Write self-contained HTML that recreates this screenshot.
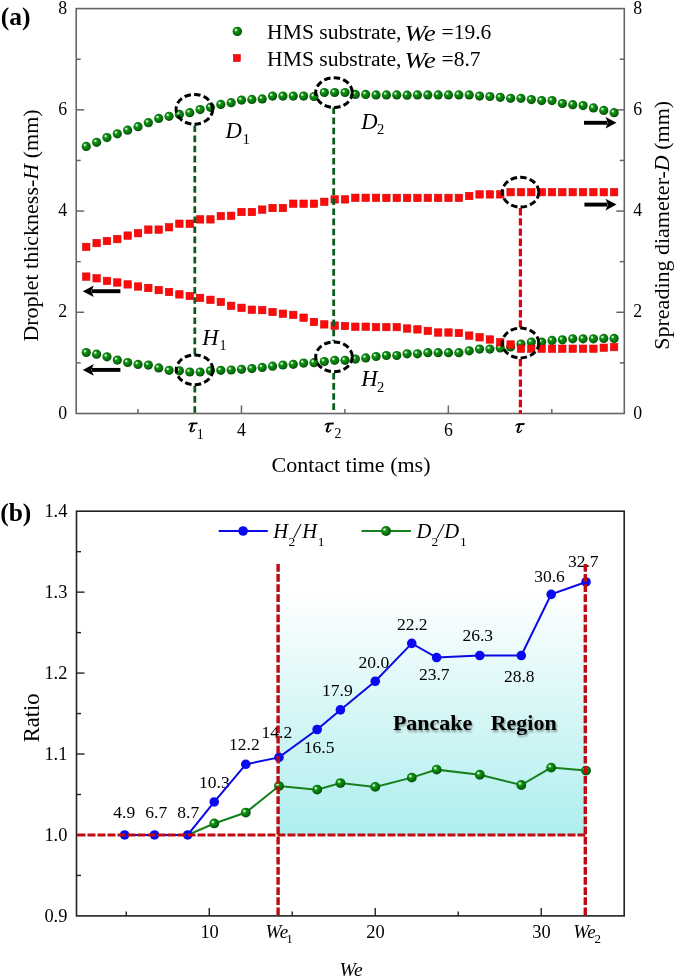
<!DOCTYPE html><html><head><meta charset="utf-8"><style>html,body{margin:0;padding:0;background:#fff;overflow:hidden;}svg{display:block;font-family:'Liberation Serif', serif;opacity:0.999;}</style></head><body>
<svg width="675" height="978" viewBox="0 0 675 978" font-family="Liberation Serif">
<defs>
<radialGradient id="gs" cx="0.45" cy="0.45" r="0.58" fx="0.33" fy="0.32">
<stop offset="0" stop-color="#f2fff2"/><stop offset="0.13" stop-color="#b0f0b0"/><stop offset="0.32" stop-color="#1a901d"/><stop offset="0.6" stop-color="#067e0a"/><stop offset="0.84" stop-color="#046008"/><stop offset="1" stop-color="#023804"/>
</radialGradient>
<linearGradient id="cy" gradientUnits="userSpaceOnUse" x1="0" y1="590" x2="0" y2="834">
<stop offset="0" stop-color="#ffffff"/><stop offset="1" stop-color="#afeeee"/>
</linearGradient>
<filter id="sh" x="-10%" y="-30%" width="130%" height="170%"><feGaussianBlur in="SourceAlpha" stdDeviation="1.1"/><feOffset dx="1.4" dy="1.8" result="o"/><feComponentTransfer><feFuncA type="linear" slope="0.4"/></feComponentTransfer><feMerge><feMergeNode/><feMergeNode in="SourceGraphic"/></feMerge></filter>
<g id="tau"><path d="M0.2,2.9 C0.9,1.2 2,0.25 3.7,0.25 L9.7,0.1 L9.4,1.9 L3.9,2 C2.4,2 1.3,2.5 0.5,3.3 Z" fill="#000"/><path d="M4.5,1.6 C3.9,4 3.1,6.6 2.5,8.4" stroke="#000" stroke-width="2" fill="none" stroke-linecap="round"/><path d="M2.4,8.5 C2.7,10.2 5.2,9.6 6.6,7.3" stroke="#000" stroke-width="1.15" fill="none" stroke-linecap="round"/></g>
</defs>
<rect x="76.2" y="8.6" width="548.1" height="404.9" fill="none" stroke="#666" stroke-width="1.6"/>
<text transform="translate(67.2,418.7)" font-size="17.8" text-anchor="end">0</text>
<text transform="translate(633.3,418.7)" font-size="17.8">0</text>
<line x1="76.2" y1="362.89" x2="80.7" y2="362.89" stroke="#666" stroke-width="1.5"/>
<line x1="624.3" y1="362.89" x2="619.8" y2="362.89" stroke="#666" stroke-width="1.5"/>
<line x1="76.2" y1="312.28" x2="84.2" y2="312.28" stroke="#666" stroke-width="1.5"/>
<line x1="624.3" y1="312.28" x2="616.3" y2="312.28" stroke="#666" stroke-width="1.5"/>
<text transform="translate(67.2,317.48)" font-size="17.8" text-anchor="end">2</text>
<text transform="translate(633.3,317.48)" font-size="17.8">2</text>
<line x1="76.2" y1="261.67" x2="80.7" y2="261.67" stroke="#666" stroke-width="1.5"/>
<line x1="624.3" y1="261.67" x2="619.8" y2="261.67" stroke="#666" stroke-width="1.5"/>
<line x1="76.2" y1="211.06" x2="84.2" y2="211.06" stroke="#666" stroke-width="1.5"/>
<line x1="624.3" y1="211.06" x2="616.3" y2="211.06" stroke="#666" stroke-width="1.5"/>
<text transform="translate(67.2,216.26)" font-size="17.8" text-anchor="end">4</text>
<text transform="translate(633.3,216.26)" font-size="17.8">4</text>
<line x1="76.2" y1="160.45" x2="80.7" y2="160.45" stroke="#666" stroke-width="1.5"/>
<line x1="624.3" y1="160.45" x2="619.8" y2="160.45" stroke="#666" stroke-width="1.5"/>
<line x1="76.2" y1="109.84" x2="84.2" y2="109.84" stroke="#666" stroke-width="1.5"/>
<line x1="624.3" y1="109.84" x2="616.3" y2="109.84" stroke="#666" stroke-width="1.5"/>
<text transform="translate(67.2,115.04)" font-size="17.8" text-anchor="end">6</text>
<text transform="translate(633.3,115.04)" font-size="17.8">6</text>
<line x1="76.2" y1="59.23" x2="80.7" y2="59.23" stroke="#666" stroke-width="1.5"/>
<line x1="624.3" y1="59.23" x2="619.8" y2="59.23" stroke="#666" stroke-width="1.5"/>
<text transform="translate(67.2,13.82)" font-size="17.8" text-anchor="end">8</text>
<text transform="translate(633.3,13.82)" font-size="17.8">8</text>
<line x1="138" y1="413.5" x2="138" y2="409" stroke="#666" stroke-width="1.5"/>
<line x1="241.45" y1="413.5" x2="241.45" y2="405.5" stroke="#666" stroke-width="1.5"/>
<line x1="344.9" y1="413.5" x2="344.9" y2="409" stroke="#666" stroke-width="1.5"/>
<line x1="448.35" y1="413.5" x2="448.35" y2="405.5" stroke="#666" stroke-width="1.5"/>
<line x1="551.8" y1="413.5" x2="551.8" y2="409" stroke="#666" stroke-width="1.5"/>
<text transform="translate(241.45,436)" font-size="17.8" text-anchor="middle">4</text>
<text transform="translate(448.35,436)" font-size="17.8" text-anchor="middle">6</text>
<circle cx="86.25" cy="146.4" r="4.6" fill="url(#gs)"/>
<circle cx="96.6" cy="142.3" r="4.6" fill="url(#gs)"/>
<circle cx="106.95" cy="137.6" r="4.6" fill="url(#gs)"/>
<circle cx="117.3" cy="133.8" r="4.6" fill="url(#gs)"/>
<circle cx="127.65" cy="130.2" r="4.6" fill="url(#gs)"/>
<circle cx="138" cy="126.7" r="4.6" fill="url(#gs)"/>
<circle cx="148.35" cy="122.7" r="4.6" fill="url(#gs)"/>
<circle cx="158.7" cy="118.4" r="4.6" fill="url(#gs)"/>
<circle cx="169.05" cy="116.3" r="4.6" fill="url(#gs)"/>
<circle cx="179.4" cy="114.4" r="4.6" fill="url(#gs)"/>
<circle cx="189.75" cy="112.7" r="4.6" fill="url(#gs)"/>
<circle cx="200.1" cy="109.6" r="4.6" fill="url(#gs)"/>
<circle cx="210.45" cy="107.3" r="4.6" fill="url(#gs)"/>
<circle cx="220.8" cy="104.4" r="4.6" fill="url(#gs)"/>
<circle cx="231.15" cy="102.7" r="4.6" fill="url(#gs)"/>
<circle cx="241.5" cy="100.1" r="4.6" fill="url(#gs)"/>
<circle cx="251.85" cy="99.4" r="4.6" fill="url(#gs)"/>
<circle cx="262.2" cy="98.9" r="4.6" fill="url(#gs)"/>
<circle cx="272.55" cy="96.1" r="4.6" fill="url(#gs)"/>
<circle cx="282.9" cy="96.1" r="4.6" fill="url(#gs)"/>
<circle cx="293.25" cy="96.1" r="4.6" fill="url(#gs)"/>
<circle cx="303.6" cy="96.1" r="4.6" fill="url(#gs)"/>
<circle cx="313.95" cy="96.5" r="4.6" fill="url(#gs)"/>
<circle cx="324.3" cy="92.5" r="4.6" fill="url(#gs)"/>
<circle cx="334.65" cy="92.5" r="4.6" fill="url(#gs)"/>
<circle cx="345" cy="92.5" r="4.6" fill="url(#gs)"/>
<circle cx="355.35" cy="94.4" r="4.6" fill="url(#gs)"/>
<circle cx="365.7" cy="94.4" r="4.6" fill="url(#gs)"/>
<circle cx="376.05" cy="94.9" r="4.6" fill="url(#gs)"/>
<circle cx="386.4" cy="94.9" r="4.6" fill="url(#gs)"/>
<circle cx="396.75" cy="94.9" r="4.6" fill="url(#gs)"/>
<circle cx="407.1" cy="95.2" r="4.6" fill="url(#gs)"/>
<circle cx="417.45" cy="94.9" r="4.6" fill="url(#gs)"/>
<circle cx="427.8" cy="94.9" r="4.6" fill="url(#gs)"/>
<circle cx="438.15" cy="94.9" r="4.6" fill="url(#gs)"/>
<circle cx="448.5" cy="94.9" r="4.6" fill="url(#gs)"/>
<circle cx="458.85" cy="94.9" r="4.6" fill="url(#gs)"/>
<circle cx="469.2" cy="94.9" r="4.6" fill="url(#gs)"/>
<circle cx="479.55" cy="96.1" r="4.6" fill="url(#gs)"/>
<circle cx="489.9" cy="96.5" r="4.6" fill="url(#gs)"/>
<circle cx="500.25" cy="97.3" r="4.6" fill="url(#gs)"/>
<circle cx="510.6" cy="98.3" r="4.6" fill="url(#gs)"/>
<circle cx="520.95" cy="98.3" r="4.6" fill="url(#gs)"/>
<circle cx="531.3" cy="99.6" r="4.6" fill="url(#gs)"/>
<circle cx="541.65" cy="100.6" r="4.6" fill="url(#gs)"/>
<circle cx="552" cy="100.6" r="4.6" fill="url(#gs)"/>
<circle cx="562.35" cy="103.5" r="4.6" fill="url(#gs)"/>
<circle cx="572.7" cy="104.7" r="4.6" fill="url(#gs)"/>
<circle cx="583.05" cy="105.6" r="4.6" fill="url(#gs)"/>
<circle cx="593.4" cy="107.9" r="4.6" fill="url(#gs)"/>
<circle cx="603.75" cy="110.4" r="4.6" fill="url(#gs)"/>
<circle cx="614.1" cy="112.7" r="4.6" fill="url(#gs)"/>
<circle cx="86.25" cy="352.5" r="4.6" fill="url(#gs)"/>
<circle cx="96.6" cy="354.2" r="4.6" fill="url(#gs)"/>
<circle cx="106.95" cy="356.8" r="4.6" fill="url(#gs)"/>
<circle cx="117.3" cy="360.1" r="4.6" fill="url(#gs)"/>
<circle cx="127.65" cy="362.5" r="4.6" fill="url(#gs)"/>
<circle cx="138" cy="364.4" r="4.6" fill="url(#gs)"/>
<circle cx="148.35" cy="365.1" r="4.6" fill="url(#gs)"/>
<circle cx="158.7" cy="367.9" r="4.6" fill="url(#gs)"/>
<circle cx="169.05" cy="370.3" r="4.6" fill="url(#gs)"/>
<circle cx="179.4" cy="370.8" r="4.6" fill="url(#gs)"/>
<circle cx="189.75" cy="372" r="4.6" fill="url(#gs)"/>
<circle cx="200.1" cy="372" r="4.6" fill="url(#gs)"/>
<circle cx="210.45" cy="370.8" r="4.6" fill="url(#gs)"/>
<circle cx="220.8" cy="370.3" r="4.6" fill="url(#gs)"/>
<circle cx="231.15" cy="370" r="4.6" fill="url(#gs)"/>
<circle cx="241.5" cy="369.3" r="4.6" fill="url(#gs)"/>
<circle cx="251.85" cy="368.6" r="4.6" fill="url(#gs)"/>
<circle cx="262.2" cy="367.4" r="4.6" fill="url(#gs)"/>
<circle cx="272.55" cy="366.2" r="4.6" fill="url(#gs)"/>
<circle cx="282.9" cy="365" r="4.6" fill="url(#gs)"/>
<circle cx="293.25" cy="364.3" r="4.6" fill="url(#gs)"/>
<circle cx="303.6" cy="363.1" r="4.6" fill="url(#gs)"/>
<circle cx="313.95" cy="362.7" r="4.6" fill="url(#gs)"/>
<circle cx="324.3" cy="361.5" r="4.6" fill="url(#gs)"/>
<circle cx="334.65" cy="360.3" r="4.6" fill="url(#gs)"/>
<circle cx="345" cy="360.3" r="4.6" fill="url(#gs)"/>
<circle cx="355.35" cy="359.1" r="4.6" fill="url(#gs)"/>
<circle cx="365.7" cy="357.9" r="4.6" fill="url(#gs)"/>
<circle cx="376.05" cy="356.5" r="4.6" fill="url(#gs)"/>
<circle cx="386.4" cy="355.5" r="4.6" fill="url(#gs)"/>
<circle cx="396.75" cy="355.5" r="4.6" fill="url(#gs)"/>
<circle cx="407.1" cy="353.8" r="4.6" fill="url(#gs)"/>
<circle cx="417.45" cy="353.8" r="4.6" fill="url(#gs)"/>
<circle cx="427.8" cy="352.7" r="4.6" fill="url(#gs)"/>
<circle cx="438.15" cy="352.7" r="4.6" fill="url(#gs)"/>
<circle cx="448.5" cy="352.7" r="4.6" fill="url(#gs)"/>
<circle cx="458.85" cy="352.7" r="4.6" fill="url(#gs)"/>
<circle cx="469.2" cy="350.8" r="4.6" fill="url(#gs)"/>
<circle cx="479.55" cy="349.1" r="4.6" fill="url(#gs)"/>
<circle cx="489.9" cy="349.1" r="4.6" fill="url(#gs)"/>
<circle cx="500.25" cy="348" r="4.6" fill="url(#gs)"/>
<circle cx="510.6" cy="347" r="4.6" fill="url(#gs)"/>
<circle cx="520.95" cy="344" r="4.6" fill="url(#gs)"/>
<circle cx="531.3" cy="342.1" r="4.6" fill="url(#gs)"/>
<circle cx="541.65" cy="342.1" r="4.6" fill="url(#gs)"/>
<circle cx="552" cy="340.4" r="4.6" fill="url(#gs)"/>
<circle cx="562.35" cy="339.8" r="4.6" fill="url(#gs)"/>
<circle cx="572.7" cy="338.8" r="4.6" fill="url(#gs)"/>
<circle cx="583.05" cy="338.8" r="4.6" fill="url(#gs)"/>
<circle cx="593.4" cy="338.8" r="4.6" fill="url(#gs)"/>
<circle cx="603.75" cy="338.4" r="4.6" fill="url(#gs)"/>
<circle cx="614.1" cy="338.4" r="4.6" fill="url(#gs)"/>
<rect x="82.55" y="243.2" width="7.4" height="7.4" fill="#ff0a0a" stroke="#d80000" stroke-width="0.6"/>
<rect x="92.9" y="239.4" width="7.4" height="7.4" fill="#ff0a0a" stroke="#d80000" stroke-width="0.6"/>
<rect x="103.25" y="237.3" width="7.4" height="7.4" fill="#ff0a0a" stroke="#d80000" stroke-width="0.6"/>
<rect x="113.6" y="235.4" width="7.4" height="7.4" fill="#ff0a0a" stroke="#d80000" stroke-width="0.6"/>
<rect x="123.95" y="231.9" width="7.4" height="7.4" fill="#ff0a0a" stroke="#d80000" stroke-width="0.6"/>
<rect x="134.3" y="229.5" width="7.4" height="7.4" fill="#ff0a0a" stroke="#d80000" stroke-width="0.6"/>
<rect x="144.65" y="225.9" width="7.4" height="7.4" fill="#ff0a0a" stroke="#d80000" stroke-width="0.6"/>
<rect x="155" y="225.9" width="7.4" height="7.4" fill="#ff0a0a" stroke="#d80000" stroke-width="0.6"/>
<rect x="165.35" y="223.6" width="7.4" height="7.4" fill="#ff0a0a" stroke="#d80000" stroke-width="0.6"/>
<rect x="175.7" y="220" width="7.4" height="7.4" fill="#ff0a0a" stroke="#d80000" stroke-width="0.6"/>
<rect x="186.05" y="220" width="7.4" height="7.4" fill="#ff0a0a" stroke="#d80000" stroke-width="0.6"/>
<rect x="196.4" y="215.7" width="7.4" height="7.4" fill="#ff0a0a" stroke="#d80000" stroke-width="0.6"/>
<rect x="206.75" y="215.7" width="7.4" height="7.4" fill="#ff0a0a" stroke="#d80000" stroke-width="0.6"/>
<rect x="217.1" y="212.4" width="7.4" height="7.4" fill="#ff0a0a" stroke="#d80000" stroke-width="0.6"/>
<rect x="227.45" y="212.1" width="7.4" height="7.4" fill="#ff0a0a" stroke="#d80000" stroke-width="0.6"/>
<rect x="237.8" y="208.3" width="7.4" height="7.4" fill="#ff0a0a" stroke="#d80000" stroke-width="0.6"/>
<rect x="248.15" y="208.3" width="7.4" height="7.4" fill="#ff0a0a" stroke="#d80000" stroke-width="0.6"/>
<rect x="258.5" y="205.9" width="7.4" height="7.4" fill="#ff0a0a" stroke="#d80000" stroke-width="0.6"/>
<rect x="268.85" y="204.3" width="7.4" height="7.4" fill="#ff0a0a" stroke="#d80000" stroke-width="0.6"/>
<rect x="279.2" y="204.3" width="7.4" height="7.4" fill="#ff0a0a" stroke="#d80000" stroke-width="0.6"/>
<rect x="289.55" y="200" width="7.4" height="7.4" fill="#ff0a0a" stroke="#d80000" stroke-width="0.6"/>
<rect x="299.9" y="200" width="7.4" height="7.4" fill="#ff0a0a" stroke="#d80000" stroke-width="0.6"/>
<rect x="310.25" y="200" width="7.4" height="7.4" fill="#ff0a0a" stroke="#d80000" stroke-width="0.6"/>
<rect x="320.6" y="198.1" width="7.4" height="7.4" fill="#ff0a0a" stroke="#d80000" stroke-width="0.6"/>
<rect x="330.95" y="195.7" width="7.4" height="7.4" fill="#ff0a0a" stroke="#d80000" stroke-width="0.6"/>
<rect x="341.3" y="195.7" width="7.4" height="7.4" fill="#ff0a0a" stroke="#d80000" stroke-width="0.6"/>
<rect x="351.65" y="194.1" width="7.4" height="7.4" fill="#ff0a0a" stroke="#d80000" stroke-width="0.6"/>
<rect x="362" y="194.1" width="7.4" height="7.4" fill="#ff0a0a" stroke="#d80000" stroke-width="0.6"/>
<rect x="372.35" y="194.1" width="7.4" height="7.4" fill="#ff0a0a" stroke="#d80000" stroke-width="0.6"/>
<rect x="382.7" y="194.2" width="7.4" height="7.4" fill="#ff0a0a" stroke="#d80000" stroke-width="0.6"/>
<rect x="393.05" y="194.2" width="7.4" height="7.4" fill="#ff0a0a" stroke="#d80000" stroke-width="0.6"/>
<rect x="403.4" y="194.2" width="7.4" height="7.4" fill="#ff0a0a" stroke="#d80000" stroke-width="0.6"/>
<rect x="413.75" y="194.2" width="7.4" height="7.4" fill="#ff0a0a" stroke="#d80000" stroke-width="0.6"/>
<rect x="424.1" y="194.2" width="7.4" height="7.4" fill="#ff0a0a" stroke="#d80000" stroke-width="0.6"/>
<rect x="434.45" y="194.2" width="7.4" height="7.4" fill="#ff0a0a" stroke="#d80000" stroke-width="0.6"/>
<rect x="444.8" y="194.2" width="7.4" height="7.4" fill="#ff0a0a" stroke="#d80000" stroke-width="0.6"/>
<rect x="455.15" y="194.2" width="7.4" height="7.4" fill="#ff0a0a" stroke="#d80000" stroke-width="0.6"/>
<rect x="465.5" y="192.3" width="7.4" height="7.4" fill="#ff0a0a" stroke="#d80000" stroke-width="0.6"/>
<rect x="475.85" y="190.7" width="7.4" height="7.4" fill="#ff0a0a" stroke="#d80000" stroke-width="0.6"/>
<rect x="486.2" y="190.7" width="7.4" height="7.4" fill="#ff0a0a" stroke="#d80000" stroke-width="0.6"/>
<rect x="496.55" y="190.7" width="7.4" height="7.4" fill="#ff0a0a" stroke="#d80000" stroke-width="0.6"/>
<rect x="506.9" y="188.5" width="7.4" height="7.4" fill="#ff0a0a" stroke="#d80000" stroke-width="0.6"/>
<rect x="517.25" y="188.5" width="7.4" height="7.4" fill="#ff0a0a" stroke="#d80000" stroke-width="0.6"/>
<rect x="527.6" y="188.5" width="7.4" height="7.4" fill="#ff0a0a" stroke="#d80000" stroke-width="0.6"/>
<rect x="537.95" y="188.5" width="7.4" height="7.4" fill="#ff0a0a" stroke="#d80000" stroke-width="0.6"/>
<rect x="548.3" y="188.5" width="7.4" height="7.4" fill="#ff0a0a" stroke="#d80000" stroke-width="0.6"/>
<rect x="558.65" y="188.5" width="7.4" height="7.4" fill="#ff0a0a" stroke="#d80000" stroke-width="0.6"/>
<rect x="569" y="188.5" width="7.4" height="7.4" fill="#ff0a0a" stroke="#d80000" stroke-width="0.6"/>
<rect x="579.35" y="188.5" width="7.4" height="7.4" fill="#ff0a0a" stroke="#d80000" stroke-width="0.6"/>
<rect x="589.7" y="188.5" width="7.4" height="7.4" fill="#ff0a0a" stroke="#d80000" stroke-width="0.6"/>
<rect x="600.05" y="188.5" width="7.4" height="7.4" fill="#ff0a0a" stroke="#d80000" stroke-width="0.6"/>
<rect x="610.4" y="188.5" width="7.4" height="7.4" fill="#ff0a0a" stroke="#d80000" stroke-width="0.6"/>
<rect x="82.55" y="272.9" width="7.4" height="7.4" fill="#ff0a0a" stroke="#d80000" stroke-width="0.6"/>
<rect x="92.9" y="274.6" width="7.4" height="7.4" fill="#ff0a0a" stroke="#d80000" stroke-width="0.6"/>
<rect x="103.25" y="277.2" width="7.4" height="7.4" fill="#ff0a0a" stroke="#d80000" stroke-width="0.6"/>
<rect x="113.6" y="278.8" width="7.4" height="7.4" fill="#ff0a0a" stroke="#d80000" stroke-width="0.6"/>
<rect x="123.95" y="280.7" width="7.4" height="7.4" fill="#ff0a0a" stroke="#d80000" stroke-width="0.6"/>
<rect x="134.3" y="282.8" width="7.4" height="7.4" fill="#ff0a0a" stroke="#d80000" stroke-width="0.6"/>
<rect x="144.65" y="284.3" width="7.4" height="7.4" fill="#ff0a0a" stroke="#d80000" stroke-width="0.6"/>
<rect x="155" y="286.4" width="7.4" height="7.4" fill="#ff0a0a" stroke="#d80000" stroke-width="0.6"/>
<rect x="165.35" y="288.3" width="7.4" height="7.4" fill="#ff0a0a" stroke="#d80000" stroke-width="0.6"/>
<rect x="175.7" y="290.7" width="7.4" height="7.4" fill="#ff0a0a" stroke="#d80000" stroke-width="0.6"/>
<rect x="186.05" y="292.3" width="7.4" height="7.4" fill="#ff0a0a" stroke="#d80000" stroke-width="0.6"/>
<rect x="196.4" y="294.2" width="7.4" height="7.4" fill="#ff0a0a" stroke="#d80000" stroke-width="0.6"/>
<rect x="206.75" y="296.1" width="7.4" height="7.4" fill="#ff0a0a" stroke="#d80000" stroke-width="0.6"/>
<rect x="217.1" y="298.3" width="7.4" height="7.4" fill="#ff0a0a" stroke="#d80000" stroke-width="0.6"/>
<rect x="227.45" y="302.1" width="7.4" height="7.4" fill="#ff0a0a" stroke="#d80000" stroke-width="0.6"/>
<rect x="237.8" y="304.1" width="7.4" height="7.4" fill="#ff0a0a" stroke="#d80000" stroke-width="0.6"/>
<rect x="248.15" y="306" width="7.4" height="7.4" fill="#ff0a0a" stroke="#d80000" stroke-width="0.6"/>
<rect x="258.5" y="306.4" width="7.4" height="7.4" fill="#ff0a0a" stroke="#d80000" stroke-width="0.6"/>
<rect x="268.85" y="308.3" width="7.4" height="7.4" fill="#ff0a0a" stroke="#d80000" stroke-width="0.6"/>
<rect x="279.2" y="310" width="7.4" height="7.4" fill="#ff0a0a" stroke="#d80000" stroke-width="0.6"/>
<rect x="289.55" y="311.2" width="7.4" height="7.4" fill="#ff0a0a" stroke="#d80000" stroke-width="0.6"/>
<rect x="299.9" y="314" width="7.4" height="7.4" fill="#ff0a0a" stroke="#d80000" stroke-width="0.6"/>
<rect x="310.25" y="318.3" width="7.4" height="7.4" fill="#ff0a0a" stroke="#d80000" stroke-width="0.6"/>
<rect x="320.6" y="320.7" width="7.4" height="7.4" fill="#ff0a0a" stroke="#d80000" stroke-width="0.6"/>
<rect x="330.95" y="321.9" width="7.4" height="7.4" fill="#ff0a0a" stroke="#d80000" stroke-width="0.6"/>
<rect x="341.3" y="322.3" width="7.4" height="7.4" fill="#ff0a0a" stroke="#d80000" stroke-width="0.6"/>
<rect x="351.65" y="323" width="7.4" height="7.4" fill="#ff0a0a" stroke="#d80000" stroke-width="0.6"/>
<rect x="362" y="323" width="7.4" height="7.4" fill="#ff0a0a" stroke="#d80000" stroke-width="0.6"/>
<rect x="372.35" y="323.4" width="7.4" height="7.4" fill="#ff0a0a" stroke="#d80000" stroke-width="0.6"/>
<rect x="382.7" y="323.4" width="7.4" height="7.4" fill="#ff0a0a" stroke="#d80000" stroke-width="0.6"/>
<rect x="393.05" y="323.4" width="7.4" height="7.4" fill="#ff0a0a" stroke="#d80000" stroke-width="0.6"/>
<rect x="403.4" y="324.8" width="7.4" height="7.4" fill="#ff0a0a" stroke="#d80000" stroke-width="0.6"/>
<rect x="413.75" y="325.7" width="7.4" height="7.4" fill="#ff0a0a" stroke="#d80000" stroke-width="0.6"/>
<rect x="424.1" y="327.2" width="7.4" height="7.4" fill="#ff0a0a" stroke="#d80000" stroke-width="0.6"/>
<rect x="434.45" y="328.8" width="7.4" height="7.4" fill="#ff0a0a" stroke="#d80000" stroke-width="0.6"/>
<rect x="444.8" y="328.8" width="7.4" height="7.4" fill="#ff0a0a" stroke="#d80000" stroke-width="0.6"/>
<rect x="455.15" y="329.3" width="7.4" height="7.4" fill="#ff0a0a" stroke="#d80000" stroke-width="0.6"/>
<rect x="465.5" y="331.9" width="7.4" height="7.4" fill="#ff0a0a" stroke="#d80000" stroke-width="0.6"/>
<rect x="475.85" y="333.6" width="7.4" height="7.4" fill="#ff0a0a" stroke="#d80000" stroke-width="0.6"/>
<rect x="486.2" y="335.8" width="7.4" height="7.4" fill="#ff0a0a" stroke="#d80000" stroke-width="0.6"/>
<rect x="496.55" y="338.6" width="7.4" height="7.4" fill="#ff0a0a" stroke="#d80000" stroke-width="0.6"/>
<rect x="506.9" y="340.8" width="7.4" height="7.4" fill="#ff0a0a" stroke="#d80000" stroke-width="0.6"/>
<rect x="517.25" y="345" width="7.4" height="7.4" fill="#ff0a0a" stroke="#d80000" stroke-width="0.6"/>
<rect x="527.6" y="345" width="7.4" height="7.4" fill="#ff0a0a" stroke="#d80000" stroke-width="0.6"/>
<rect x="537.95" y="345" width="7.4" height="7.4" fill="#ff0a0a" stroke="#d80000" stroke-width="0.6"/>
<rect x="548.3" y="345" width="7.4" height="7.4" fill="#ff0a0a" stroke="#d80000" stroke-width="0.6"/>
<rect x="558.65" y="345" width="7.4" height="7.4" fill="#ff0a0a" stroke="#d80000" stroke-width="0.6"/>
<rect x="569" y="345" width="7.4" height="7.4" fill="#ff0a0a" stroke="#d80000" stroke-width="0.6"/>
<rect x="579.35" y="345" width="7.4" height="7.4" fill="#ff0a0a" stroke="#d80000" stroke-width="0.6"/>
<rect x="589.7" y="345" width="7.4" height="7.4" fill="#ff0a0a" stroke="#d80000" stroke-width="0.6"/>
<rect x="600.05" y="344" width="7.4" height="7.4" fill="#ff0a0a" stroke="#d80000" stroke-width="0.6"/>
<rect x="610.4" y="343.4" width="7.4" height="7.4" fill="#ff0a0a" stroke="#d80000" stroke-width="0.6"/>
<line x1="194.8" y1="125.5" x2="194.8" y2="354" stroke="#0b5a1e" stroke-width="2.8" stroke-dasharray="6.6 3.5"/>
<line x1="194.8" y1="386" x2="194.8" y2="413.5" stroke="#0b5a1e" stroke-width="2.8" stroke-dasharray="6.6 3.5"/>
<line x1="333.7" y1="107.5" x2="333.7" y2="341" stroke="#0b5a1e" stroke-width="2.8" stroke-dasharray="6.6 3.5"/>
<line x1="333.7" y1="373" x2="333.7" y2="413.5" stroke="#0b5a1e" stroke-width="2.8" stroke-dasharray="6.6 3.5"/>
<line x1="520.4" y1="208" x2="520.4" y2="327.5" stroke="#e4000f" stroke-width="3.2" stroke-dasharray="7.4 2.8"/>
<line x1="520.4" y1="359" x2="520.4" y2="413.5" stroke="#e4000f" stroke-width="3.2" stroke-dasharray="7.4 2.8"/>
<ellipse cx="194.4" cy="109.3" rx="18.3" ry="14.9" fill="none" stroke="#000" stroke-width="3" stroke-dasharray="6.5 3.2"/>
<ellipse cx="334" cy="92.6" rx="18.3" ry="14.9" fill="none" stroke="#000" stroke-width="3" stroke-dasharray="6.5 3.2"/>
<ellipse cx="520.5" cy="192.2" rx="18.3" ry="14.9" fill="none" stroke="#000" stroke-width="3" stroke-dasharray="6.5 3.2"/>
<ellipse cx="194.6" cy="369.8" rx="18.3" ry="14.9" fill="none" stroke="#000" stroke-width="3" stroke-dasharray="6.5 3.2"/>
<ellipse cx="334" cy="356.8" rx="18.3" ry="14.9" fill="none" stroke="#000" stroke-width="3" stroke-dasharray="6.5 3.2"/>
<ellipse cx="520.5" cy="343" rx="18.3" ry="14.9" fill="none" stroke="#000" stroke-width="3" stroke-dasharray="6.5 3.2"/>
<line x1="584" y1="122.8" x2="607.5" y2="122.8" stroke="#000" stroke-width="3.9"/><path d="M616.5,122.8 L605.5,117 L608,122.8 L605.5,128.6 Z" fill="#000"/>
<line x1="584.4" y1="204.6" x2="607.5" y2="204.6" stroke="#000" stroke-width="3.9"/><path d="M616.5,204.6 L605.5,198.8 L608,204.6 L605.5,210.4 Z" fill="#000"/>
<line x1="120.4" y1="291.2" x2="91.8" y2="291.2" stroke="#000" stroke-width="3.9"/><path d="M82.8,291.2 L93.8,285.4 L91.3,291.2 L93.8,297 Z" fill="#000"/>
<line x1="120.4" y1="369.9" x2="91.8" y2="369.9" stroke="#000" stroke-width="3.9"/><path d="M82.8,369.9 L93.8,364.1 L91.3,369.9 L93.8,375.7 Z" fill="#000"/>
<circle cx="237.3" cy="31.4" r="4.7" fill="url(#gs)"/>
<rect x="233.3" y="54.5" width="7" height="7" fill="#ff0a0a" stroke="#d80000" stroke-width="0.6"/>
<text transform="translate(267.1,38.9)" font-size="21.6">HMS substrate,</text>
<text transform="translate(404.5,40.5) scale(1.14,1)" font-size="23.2" font-style="italic">We</text>
<text transform="translate(441.6,38.6)" font-size="21.5">=19.6</text>
<text transform="translate(267.1,66)" font-size="21.6">HMS substrate,</text>
<text transform="translate(404.5,67.6) scale(1.14,1)" font-size="23.2" font-style="italic">We</text>
<text transform="translate(441.6,65.7)" font-size="21.5">=8.7</text>
<text transform="translate(225.6,138.2)" font-size="22.6" font-style="italic">D</text>
<text transform="translate(242.6,144.1)" font-size="15">1</text>
<text transform="translate(361.2,129.1)" font-size="22.6" font-style="italic">D</text>
<text transform="translate(377.1,134.1)" font-size="14.5">2</text>
<text transform="translate(202.2,344.6)" font-size="22.6" font-style="italic">H</text>
<text transform="translate(219.4,350)" font-size="14">1</text>
<text transform="translate(361.2,386)" font-size="22.6" font-style="italic">H</text>
<text transform="translate(377.1,392)" font-size="14.5">2</text>
<use href="#tau" transform="translate(188,422.3)"/>
<text transform="translate(196.8,438.9)" font-size="13.8">1</text>
<use href="#tau" transform="translate(324.2,422.5)"/>
<text transform="translate(334.6,437.7)" font-size="13.8">2</text>
<use href="#tau" transform="translate(515,423)"/>
<text transform="translate(271.6,472.4)" font-size="22">Contact time (ms)</text>
<text transform="translate(37.6,225.5) rotate(-90)" font-size="22" text-anchor="middle">Droplet thickness-<tspan font-style="italic">H</tspan> (mm)</text>
<text transform="translate(668.8,225.3) rotate(-90)" font-size="22" text-anchor="middle">Spreading diameter-<tspan font-style="italic">D</tspan> (mm)</text>
<text transform="translate(0.8,24.6)" font-size="25.5" font-weight="bold">(a)</text>
<rect x="278.1" y="564" width="307.2" height="270.96" fill="url(#cy)"/>
<rect x="76.5" y="511.2" width="547.7" height="404.7" fill="none" stroke="#222" stroke-width="1.6"/>
<text transform="translate(67.4,922)" font-size="18.4" text-anchor="end">0.9</text>
<line x1="76.5" y1="875.43" x2="81" y2="875.43" stroke="#222" stroke-width="1.4"/>
<line x1="76.5" y1="834.96" x2="84.5" y2="834.96" stroke="#222" stroke-width="1.4"/>
<text transform="translate(67.4,841.06)" font-size="18.4" text-anchor="end">1.0</text>
<line x1="76.5" y1="794.49" x2="81" y2="794.49" stroke="#222" stroke-width="1.4"/>
<line x1="76.5" y1="754.02" x2="84.5" y2="754.02" stroke="#222" stroke-width="1.4"/>
<text transform="translate(67.4,760.12)" font-size="18.4" text-anchor="end">1.1</text>
<line x1="76.5" y1="713.55" x2="81" y2="713.55" stroke="#222" stroke-width="1.4"/>
<line x1="76.5" y1="673.08" x2="84.5" y2="673.08" stroke="#222" stroke-width="1.4"/>
<text transform="translate(67.4,679.18)" font-size="18.4" text-anchor="end">1.2</text>
<line x1="76.5" y1="632.61" x2="81" y2="632.61" stroke="#222" stroke-width="1.4"/>
<line x1="76.5" y1="592.14" x2="84.5" y2="592.14" stroke="#222" stroke-width="1.4"/>
<text transform="translate(67.4,598.24)" font-size="18.4" text-anchor="end">1.3</text>
<line x1="76.5" y1="551.67" x2="81" y2="551.67" stroke="#222" stroke-width="1.4"/>
<text transform="translate(67.4,517.3)" font-size="18.4" text-anchor="end">1.4</text>
<line x1="126.29" y1="915.9" x2="126.29" y2="911.4" stroke="#222" stroke-width="1.4"/>
<line x1="209.28" y1="915.9" x2="209.28" y2="907.9" stroke="#222" stroke-width="1.4"/>
<line x1="292.26" y1="915.9" x2="292.26" y2="911.4" stroke="#222" stroke-width="1.4"/>
<line x1="375.25" y1="915.9" x2="375.25" y2="907.9" stroke="#222" stroke-width="1.4"/>
<line x1="458.23" y1="915.9" x2="458.23" y2="911.4" stroke="#222" stroke-width="1.4"/>
<line x1="541.22" y1="915.9" x2="541.22" y2="907.9" stroke="#222" stroke-width="1.4"/>
<text transform="translate(209.58,938.4)" font-size="18.4" text-anchor="middle">10</text>
<text transform="translate(375.55,938.4)" font-size="18.4" text-anchor="middle">20</text>
<text transform="translate(541.52,938.4)" font-size="18.4" text-anchor="middle">30</text>
<text transform="translate(265.6,938.2)" font-size="19" font-style="italic">We</text>
<text transform="translate(286.2,943.3)" font-size="13">1</text>
<text transform="translate(573.2,938.2)" font-size="19" font-style="italic">We</text>
<text transform="translate(594.6,943.3)" font-size="13">2</text>
<text transform="translate(339.6,975.6)" font-size="19.5" font-style="italic">We</text>
<text transform="translate(38.6,717.9) rotate(-90)" font-size="22.5" text-anchor="middle">Ratio</text>
<text transform="translate(0.2,521.2)" font-size="25.5" font-weight="bold">(b)</text>
<text transform="translate(113.3,817.6)" font-size="17.5">4.9</text>
<text transform="translate(145.3,817.6)" font-size="17.5">6.7</text>
<text transform="translate(177.3,817.6)" font-size="17.5">8.7</text>
<text transform="translate(199,787.8)" font-size="17.5">10.3</text>
<text transform="translate(229,750.2)" font-size="17.5">12.2</text>
<text transform="translate(261.6,738.3)" font-size="17.5">14.2</text>
<text transform="translate(303.8,752.6)" font-size="17.5">16.5</text>
<text transform="translate(322,695.7)" font-size="17.5">17.9</text>
<text transform="translate(358.6,667.7)" font-size="17.5">20.0</text>
<text transform="translate(396.9,629.7)" font-size="17.5">22.2</text>
<text transform="translate(418.9,680)" font-size="17.5">23.7</text>
<text transform="translate(462.4,641.2)" font-size="17.5">26.3</text>
<text transform="translate(503.9,682.4)" font-size="17.5">28.8</text>
<text transform="translate(534.2,581.5)" font-size="17.5">30.6</text>
<text transform="translate(567.9,567.4)" font-size="17.5">32.7</text>
<polyline points="124.63,834.96 154.51,834.96 187.7,834.96 214.25,801.94 245.79,764.3 278.98,757.42 317.16,729.5 340.39,709.91 375.25,681.25 411.76,643.38 436.65,657.54 479.81,655.52 521.3,655.52 551.17,594.41 586.03,581.94" fill="none" stroke="#0a0ae6" stroke-width="2"/>
<polyline points="187.7,834.96 214.25,823.47 245.79,812.54 278.98,786.07 317.16,789.63 340.39,783.08 375.25,786.88 411.76,777.65 436.65,769.64 479.81,774.74 521.3,785.02 551.17,767.62 586.03,770.53" fill="none" stroke="#15801c" stroke-width="2"/>
<circle cx="124.63" cy="834.96" r="4.8" fill="#0a0af0"/>
<circle cx="154.51" cy="834.96" r="4.8" fill="#0a0af0"/>
<circle cx="187.7" cy="834.96" r="4.8" fill="#0a0af0"/>
<circle cx="214.25" cy="801.94" r="4.8" fill="#0a0af0"/>
<circle cx="245.79" cy="764.3" r="4.8" fill="#0a0af0"/>
<circle cx="278.98" cy="757.42" r="4.8" fill="#0a0af0"/>
<circle cx="317.16" cy="729.5" r="4.8" fill="#0a0af0"/>
<circle cx="340.39" cy="709.91" r="4.8" fill="#0a0af0"/>
<circle cx="375.25" cy="681.25" r="4.8" fill="#0a0af0"/>
<circle cx="411.76" cy="643.38" r="4.8" fill="#0a0af0"/>
<circle cx="436.65" cy="657.54" r="4.8" fill="#0a0af0"/>
<circle cx="479.81" cy="655.52" r="4.8" fill="#0a0af0"/>
<circle cx="521.3" cy="655.52" r="4.8" fill="#0a0af0"/>
<circle cx="551.17" cy="594.41" r="4.8" fill="#0a0af0"/>
<circle cx="586.03" cy="581.94" r="4.8" fill="#0a0af0"/>
<circle cx="214.25" cy="823.47" r="4.9" fill="url(#gs)"/>
<circle cx="245.79" cy="812.54" r="4.9" fill="url(#gs)"/>
<circle cx="278.98" cy="786.07" r="4.9" fill="url(#gs)"/>
<circle cx="317.16" cy="789.63" r="4.9" fill="url(#gs)"/>
<circle cx="340.39" cy="783.08" r="4.9" fill="url(#gs)"/>
<circle cx="375.25" cy="786.88" r="4.9" fill="url(#gs)"/>
<circle cx="411.76" cy="777.65" r="4.9" fill="url(#gs)"/>
<circle cx="436.65" cy="769.64" r="4.9" fill="url(#gs)"/>
<circle cx="479.81" cy="774.74" r="4.9" fill="url(#gs)"/>
<circle cx="521.3" cy="785.02" r="4.9" fill="url(#gs)"/>
<circle cx="551.17" cy="767.62" r="4.9" fill="url(#gs)"/>
<circle cx="586.03" cy="770.53" r="4.9" fill="url(#gs)"/>
<line x1="77.5" y1="834.96" x2="585.3" y2="834.96" stroke="#bf0a12" stroke-width="3.1" stroke-dasharray="8 2"/>
<line x1="278.1" y1="564" x2="278.1" y2="915.9" stroke="#bf0a12" stroke-width="3.4" stroke-dasharray="7.7 2.4"/>
<line x1="585.3" y1="564" x2="585.3" y2="915.9" stroke="#bf0a12" stroke-width="3.4" stroke-dasharray="7.7 2.4"/>
<line x1="218.7" y1="531" x2="267.8" y2="531" stroke="#0a0ae6" stroke-width="2"/>
<circle cx="243.1" cy="531" r="4.8" fill="#0a0af0"/>
<text transform="translate(273.2,537.9)" font-size="20.6" font-style="italic">H</text>
<text transform="translate(288.6,545.5)" font-size="13.5">2</text>
<text transform="translate(294.3,537.9)" font-size="20.6" font-style="italic">/</text>
<text transform="translate(302.2,537.9)" font-size="20.6" font-style="italic">H</text>
<text transform="translate(317.8,545.5)" font-size="13.5">1</text>
<line x1="361.5" y1="531" x2="411" y2="531" stroke="#15801c" stroke-width="2"/>
<circle cx="386" cy="531" r="4.9" fill="url(#gs)"/>
<text transform="translate(416.4,537.9)" font-size="20.6" font-style="italic">D</text>
<text transform="translate(431.4,545.5)" font-size="13.5">2</text>
<text transform="translate(437.4,537.9)" font-size="20.6" font-style="italic">/</text>
<text transform="translate(444.3,537.9)" font-size="20.6" font-style="italic">D</text>
<text transform="translate(459.9,545.5)" font-size="13.5">1</text>
<g filter="url(#sh)"><text transform="translate(392.9,729.9)" font-size="22" font-weight="bold">Pancake</text><text transform="translate(490.7,729.9)" font-size="22" font-weight="bold">Region</text></g>
</svg></body></html>
